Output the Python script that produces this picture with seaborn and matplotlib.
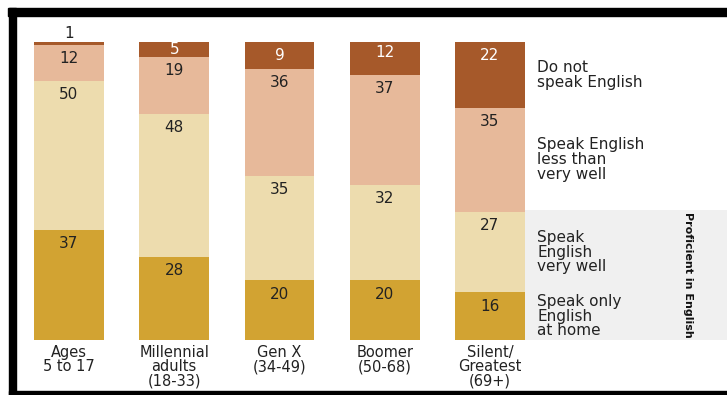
import matplotlib
matplotlib.use("Agg")
import matplotlib.pyplot as plt
import seaborn as sns
import numpy as np
from matplotlib.patches import Rectangle

# data, bottom segment first
groups = ["Ages\n5 to 17", "Millennial\nadults\n(18-33)", "Gen X\n(34-49)",
          "Boomer\n(50-68)", "Silent/\nGreatest\n(69+)"]
only_english = [37, 28, 20, 20, 16]
very_well = [50, 48, 35, 32, 27]
less_than = [12, 19, 36, 37, 35]
not_at_all = [1, 5, 9, 12, 22]

series_labels = ["Speak only\nEnglish\nat home", "Speak\nEnglish\nvery well",
                 "Speak English\nless than\nvery well", "Do not\nspeak English"]
colors = ["#d2a332", "#eddcae", "#e7b99a", "#a6592a"]

sns.set_theme(style="white")
plt.rcParams["font.family"] = ["DejaVu Sans"]

fig = plt.figure(figsize=(7.27, 3.95), dpi=100)
ax = fig.add_axes([0, 1 - 340 / 395, 1, 298 / 395])

layers = [only_english, very_well, less_than, not_at_all]
cum = np.cumsum(np.array(layers), axis=0)

# shaded "proficient" box behind the two lower legend labels
px = 105.25
x0 = -69 / px
x1 = (727 - 69) / px
ax.add_patch(Rectangle((4.285, 0), x1 - 4.285, cum[1][-1] + 0.6,
                       facecolor="#f0f0f0", edgecolor="none", zorder=0))

# stacked bars: draw cumulative totals from the top layer down
for i in range(len(layers) - 1, -1, -1):
    sns.barplot(x=groups, y=cum[i], color=colors[i], saturation=1,
                width=0.665, ax=ax, linewidth=0, zorder=2)

# segment values
for j in range(len(groups)):
    bottom = 0
    for i, layer in enumerate(layers):
        v = layer[j]
        top = bottom + v
        if v < 3:
            ax.text(j, top + 0.4, str(v), ha="center", va="bottom",
                    fontsize=11, color="#222222", zorder=5)
        else:
            y = top - min(4.6, v / 2)
            c = "white" if i == 3 else "#222222"
            ax.text(j, y, str(v), ha="center", va="center",
                    fontsize=11, color=c, zorder=5)
        bottom = top

# labels right of last bar
last = len(groups) - 1
for i, lab in enumerate(series_labels):
    yc = cum[i][last] - layers[i][last] / 2
    ax.text(4.447, yc, lab, ha="left", va="center", fontsize=11,
            linespacing=0.98, color="#222222", zorder=5)

ax.text(5.88, (cum[1][-1] + 0.6) / 2, "Proficient in English", rotation=-90,
        ha="center", va="center", fontsize=8, fontweight="bold",
        color="#111111", zorder=5)

ax.set_xlim(x0, x1)
ax.set_ylim(0, 100)
ax.set_yticks([])
ax.set_xticks(range(len(groups)))
ax.set_xticklabels(groups, fontsize=10.5, linespacing=0.95, color="#222222")
ax.tick_params(axis="x", length=0, pad=3.5)
ax.set_xlabel("")
ax.set_ylabel("")
for s in ax.spines.values():
    s.set_visible(False)

# black frame
fig.add_artist(Rectangle((8 / 727, 1 - 16 / 395), 1, 8 / 395,
                         transform=fig.transFigure, color="black"))
fig.add_artist(Rectangle((9 / 727, 0), 7 / 727, 1 - 8 / 395,
                         transform=fig.transFigure, color="black"))
fig.add_artist(Rectangle((9 / 727, 0), 1, 4 / 395,
                         transform=fig.transFigure, color="black"))

fig.savefig("out.png", dpi=100)
